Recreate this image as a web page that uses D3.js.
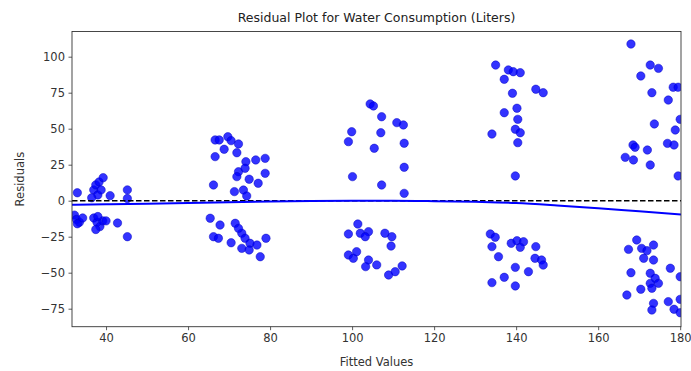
<!DOCTYPE html>
<html>
<head>
<meta charset="utf-8">
<script src="https://cdn.jsdelivr.net/npm/d3@7"></script>
<style>
  html, body { margin: 0; padding: 0; background: #fff; }
  svg { display: block; font-family: "DejaVu Sans", sans-serif; }
</style>
</head>
<body>
<div id="chart"></div>
<script>
// ---- data ----
const fittedValues = [
  // cluster ~38
  33.0, 37.0, 37.5, 38.3, 39.3, 38.0, 38.8, 41.0, 45.2, 45.2, 36.5,
  32.3, 32.8, 33.5, 34.3, 33.0, 37.0, 37.8, 38.5, 39.2, 37.5, 40.0, 42.8, 45.2, 38.0,
  // cluster ~72
  66.6, 67.6, 69.7, 70.5, 68.8, 72.3, 71.9, 66.6, 74.1, 76.5, 78.8, 72.3, 73.9, 78.8,
  71.9, 74.9, 77.1, 66.2, 71.3, 73.5, 74.3,
  65.4, 67.8, 71.5, 66.2, 67.4, 70.5, 73.1, 73.9, 75.1, 73.1, 74.9, 76.8, 79.0, 77.6, 72.3,
  // cluster ~105
  104.4, 105.2, 107.2, 110.9, 112.5, 99.9, 99.1, 107.0, 105.4, 112.7, 112.7, 100.1, 107.2, 112.7,
  101.4, 99.1, 102.0, 104.0, 103.2, 108.0, 109.7, 109.5, 99.1, 100.3, 101.1, 104.0, 103.3,
  106.0, 108.9, 110.5, 112.2,
  // cluster ~140
  135.0, 138.1, 139.3, 141.0, 137.1, 144.8, 146.6, 139.1, 140.2, 137.1, 140.4, 139.8, 141.0,
  134.1, 140.4, 139.8,
  133.7, 134.9, 134.1, 135.7, 138.8, 140.2, 141.8, 141.0, 144.8, 144.6, 146.2, 146.6, 139.8,
  143.0, 137.1, 134.1, 139.8,
  // cluster ~173
  168.0, 172.7, 174.7, 170.4, 178.3, 179.5, 173.1, 177.1, 180.0, 173.7, 178.8, 168.5, 169.0,
  172.0, 176.9, 178.5, 166.6, 168.6, 172.7, 179.5,
  169.4, 167.4, 170.6, 171.9, 173.5, 171.1, 173.5, 177.6, 168.0, 172.7, 173.9, 172.7, 174.7,
  173.1, 170.4, 180.0, 167.0, 173.5, 177.1, 173.1, 178.5, 180.0, 180.0
];
const residuals = [
  5.5, 7.5, 11.0, 13.0, 16.0, 4.0, 7.5, 3.5, 7.5, 1.5, 2.0,
  -10.0, -13.0, -15.0, -12.0, -16.0, -12.0, -15.0, -18.0, -14.0, -20.0, -14.0, -15.5, -25.0, -11.0,
  42.2, 42.2, 44.4, 41.7, 35.7, 39.4, 33.3, 30.6, 27.1, 28.3, 29.4, 20.1, 22.5, 19.0,
  16.7, 14.9, 12.1, 10.9, 6.3, 7.4, 3.3,
  -12.2, -16.9, -15.7, -25.0, -26.1, -29.2, -22.6, -26.1, -29.6, -33.1, -34.2, -30.8, -26.1, -38.9, -19.2,
  67.2, 65.8, 58.3, 54.2, 52.6, 47.9, 41.0, 47.2, 36.4, 39.9, 23.2, 16.7, 10.9, 5.1,
  -16.2, -23.1, -22.6, -21.5, -25.0, -22.6, -25.0, -31.5, -37.7, -40.0, -35.4, -41.2, -45.8,
  -44.6, -51.6, -49.3, -45.3,
  94.2, 90.8, 89.6, 88.9, 84.3, 77.4, 75.0, 74.6, 64.2, 61.1, 56.5, 49.6, 47.2,
  46.3, 40.3, 17.2,
  -23.1, -25.4, -31.9, -38.9, -29.6, -27.8, -28.5, -32.4, -31.9, -40.0, -41.2, -44.7, -46.3,
  -49.3, -53.2, -56.9, -59.2,
  108.8, 94.2, 91.9, 86.6, 78.8, 78.8, 75.0, 69.9, 56.5, 53.3, 49.1, 38.7, 37.1,
  35.2, 39.8, 38.7, 30.1, 28.3, 24.8, 17.2,
  -27.3, -33.8, -33.1, -34.7, -30.8, -40.0, -41.2, -46.9, -50.0, -50.4, -53.9, -57.4, -57.4,
  -60.8, -61.5, -52.8, -65.5, -71.3, -70.1, -75.9, -75.4, -77.8, -68.5
];
// lowess smoother through the residuals
const lowessX = [31.7, 40, 50, 60, 70, 80, 90, 100, 110, 120, 130, 140, 150, 160, 170, 180.2];
const lowessY = [-2.8, -2.5, -2.1, -1.6, -1.1, -0.6, -0.2, 0.0, 0.0, -0.3, -0.8, -1.6, -3.3, -5.3, -7.4, -9.5];

const xTicks = [40, 60, 80, 100, 120, 140, 160, 180];
const yTicks = [-75, -50, -25, 0, 25, 50, 75, 100];

const titleText = "Residual Plot for Water Consumption (Liters)";
const xLabel = "Fitted Values";
const yLabel = "Residuals";

// ---- layout ----
const W = 691, H = 371;
const m = { left: 72, right: 10, top: 31.5, bottom: 44.3 };
const iw = W - m.left - m.right, ih = H - m.top - m.bottom;

const svg = d3.select("#chart").append("svg").attr("width", W).attr("height", H);

const x = d3.scaleLinear().domain([31.7, 180.2]).range([0, iw]);
const y = d3.scaleLinear().domain([-87.5, 117.5]).range([ih, 0]);

const g = svg.append("g").attr("transform", `translate(${m.left},${m.top})`);

g.append("clipPath").attr("id", "clip")
  .append("rect").attr("width", iw).attr("height", ih);

const plot = g.append("g").attr("clip-path", "url(#clip)");

// points
const pts = fittedValues.map((v, i) => ({ x: v, y: residuals[i] }));
plot.selectAll("circle").data(pts).enter().append("circle")
  .attr("cx", d => x(d.x)).attr("cy", d => y(d.y)).attr("r", 4.2)
  .attr("fill", "#0000ff").attr("fill-opacity", 0.8)
  .attr("stroke", "#0000c0").attr("stroke-opacity", 0.8).attr("stroke-width", 0.6);

// zero line
plot.append("line")
  .attr("x1", 0).attr("x2", iw).attr("y1", y(0)).attr("y2", y(0))
  .attr("stroke", "#000").attr("stroke-width", 1.5).attr("stroke-dasharray", "5.5,2.5");

// lowess line
const lw = lowessX.map((v, i) => [v, lowessY[i]]);
plot.append("path").datum(lw)
  .attr("fill", "none").attr("stroke", "#0000ff").attr("stroke-width", 2)
  .attr("d", d3.line().x(d => x(d[0])).y(d => y(d[1])).curve(d3.curveMonotoneX));

// axes
const xAxis = g.append("g").attr("transform", `translate(0,${ih})`)
  .call(d3.axisBottom(x).tickValues(xTicks).tickSize(3.5).tickPadding(3.5).tickFormat(d3.format("d")));
const yAxis = g.append("g")
  .call(d3.axisLeft(y).tickValues(yTicks).tickSize(3.5).tickPadding(3.5)
    .tickFormat(d => d < 0 ? "\u2212" + Math.abs(d) : d));
[xAxis, yAxis].forEach(a => {
  a.select(".domain").remove();
  a.selectAll("line").attr("stroke", "#333").attr("stroke-width", 0.8);
  a.selectAll("text").attr("fill", "#333").style("font-size", "11.5px")
    .style("font-family", "'DejaVu Sans', sans-serif");
});

// spines
g.append("rect").attr("width", iw).attr("height", ih)
  .attr("fill", "none").attr("stroke", "#333").attr("stroke-width", 0.9);

// title & labels
svg.append("text").attr("x", m.left + iw / 2).attr("y", 22)
  .attr("text-anchor", "middle").attr("fill", "#222")
  .style("font-size", "12.5px").text(titleText);
svg.append("text").attr("x", m.left + iw / 2).attr("y", 366)
  .attr("text-anchor", "middle").attr("fill", "#333")
  .style("font-size", "11.5px").text(xLabel);
svg.append("text").attr("transform", `translate(24,${m.top + ih / 2}) rotate(-90)`)
  .attr("text-anchor", "middle").attr("fill", "#333")
  .style("font-size", "11.5px").text(yLabel);
</script>
</body>
</html>
